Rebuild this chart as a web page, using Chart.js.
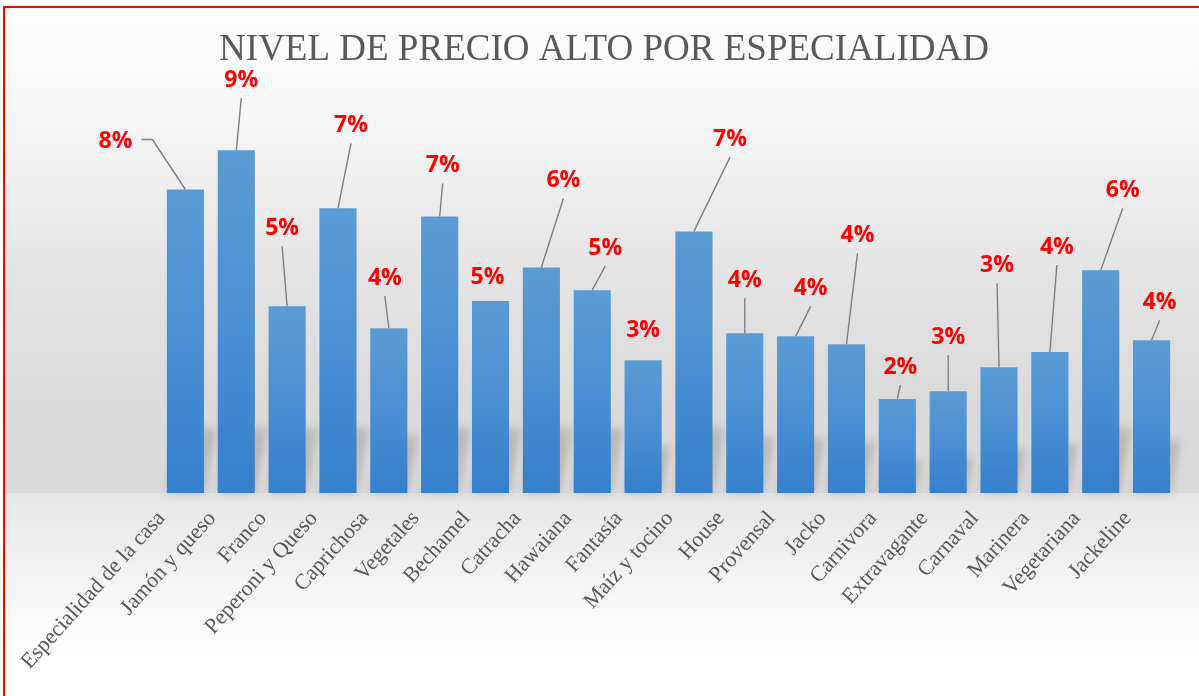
<!DOCTYPE html>
<html>
<head>
<meta charset="utf-8">
<script src="https://cdn.jsdelivr.net/npm/chart.js@4.4.0/dist/chart.umd.min.js"></script>
<style>
  body { margin: 0; background: #fff; }
  #wrap { width: 1199px; height: 696px; }
</style>
</head>
<body>
<div id="wrap"><canvas id="myChart"></canvas></div>
<script>
var especialidades = ["Especialidad de la casa", "Jamón y queso", "Franco", "Peperoni y Queso", "Caprichosa",
  "Vegetales", "Bechamel", "Catracha", "Hawaiana", "Fantasía", "Maíz y tocino", "House", "Provensal",
  "Jacko", "Carnivora", "Extravagante", "Carnaval", "Marinera", "Vegetariana", "Jackeline"];
var precioAlto = [7.75, 8.75, 4.77, 7.27, 4.21, 7.06, 4.90, 5.76, 5.18, 3.39,
  6.68, 4.08, 4.00, 3.80, 2.40, 2.60, 3.21, 3.60, 5.69, 3.90];

// where each data label sits, relative to the top of its bar
var etiquetaDx = [-70, 5, -5, 13, -4, 3, -3, 22, 13, 0, 36, 0, 15, 11, 3, 0, -2, 7, 22, 8];
var etiquetaDy = [-48, -70, -78, -83, -50, -51, -24, -87, -42, -30, -92, -53, -48, -109, -32, -54, -102, -105, -80, -38];
var conLinea = [1, 1, 1, 1, 1, 1, 0, 1, 1, 0, 1, 1, 1, 1, 1, 1, 1, 1, 1, 1];

var fondo = {
  id: 'fondo',
  beforeDraw: function(chart) {
    var ctx = chart.ctx, w = chart.width, h = chart.height;
    var base = chart.chartArea.bottom;
    ctx.save();
    var g = ctx.createLinearGradient(0, 0, 0, base);
    g.addColorStop(0, '#ffffff');
    g.addColorStop(0.25, '#f5f5f5');
    g.addColorStop(0.55, '#e4e4e4');
    g.addColorStop(0.8, '#dadada');
    g.addColorStop(1, '#d9d9d9');
    ctx.fillStyle = g;
    ctx.fillRect(0, 0, w, base);
    var g2 = ctx.createLinearGradient(0, base, 0, h);
    g2.addColorStop(0, '#e6e6e6');
    g2.addColorStop(0.8, '#ffffff');
    g2.addColorStop(1, '#ffffff');
    ctx.fillStyle = g2;
    ctx.fillRect(0, base, w, h - base);
    ctx.fillStyle = '#e2e2e2';
    ctx.fillRect(chart.chartArea.left, base, chart.chartArea.right - chart.chartArea.left, 7);
    ctx.fillStyle = '#ffffff';
    ctx.fillRect(0, 0, w, 6);
    ctx.fillRect(0, 0, 3, h);
    ctx.strokeStyle = '#ff0000';
    ctx.lineWidth = 2;
    ctx.strokeRect(4, 7, w + 10, h + 10);
    ctx.restore();
  },
  beforeDatasetsDraw: function(chart) {
    var ctx = chart.ctx;
    ctx.save();
    ctx.filter = 'blur(4px)';
    ctx.fillStyle = 'rgba(0,0,0,0.15)';
    chart.getDatasetMeta(0).data.forEach(function(bar) {
      var l = bar.x - bar.width / 2, r = bar.x + bar.width / 2;
      var hs = Math.min(65, (bar.base - bar.y) * 0.35);
      ctx.beginPath();
      ctx.moveTo(l, bar.base);
      ctx.lineTo(r, bar.base);
      ctx.lineTo(r + hs * 0.2, bar.base - hs);
      ctx.lineTo(l + hs * 0.2, bar.base - hs);
      ctx.closePath();
      ctx.fill();
    });
    ctx.restore();
  },
  afterDatasetsDraw: function(chart) {
    var ctx = chart.ctx;
    ctx.save();
    ctx.strokeStyle = '#7f7f7f';
    ctx.lineWidth = 1.4;
    ctx.fillStyle = '#ff0000';
    ctx.font = 'bold 23px "Open Sans"';
    ctx.textAlign = 'center';
    ctx.textBaseline = 'middle';
    chart.getDatasetMeta(0).data.forEach(function(bar, i) {
      var lx = bar.x + etiquetaDx[i], ly = bar.y + etiquetaDy[i];
      ctx.beginPath();
      if (i === 0) {
        ctx.moveTo(lx + 26, ly - 2);
        ctx.lineTo(lx + 37, ly - 2);
        ctx.lineTo(bar.x, bar.y);
        ctx.stroke();
      } else if (conLinea[i]) {
        ctx.moveTo(lx, ly + 18);
        ctx.lineTo(bar.x, bar.y);
        ctx.stroke();
      }
      ctx.fillText(Math.round(precioAlto[i]) + '%', lx, ly);
    });
    ctx.restore();
  }
};

function colorBarra(c) {
  var y = c.chart.scales.y;
  if (!y || !c.chart.chartArea) return '#4a8fd2';
  var top = y.getPixelForValue(c.raw), bot = y.getPixelForValue(0);
  if (!isFinite(top) || !isFinite(bot)) return '#4a8fd2';
  var g = c.chart.ctx.createLinearGradient(0, top, 0, bot);
  g.addColorStop(0, '#5b9bd5');
  g.addColorStop(0.5, '#4a8fd2');
  g.addColorStop(1, '#3580cb');
  return g;
}

new Chart("myChart", {
  type: "bar",
  data: {
    labels: especialidades,
    datasets: [{
      data: precioAlto,
      backgroundColor: colorBarra,
      borderWidth: 0,
      barPercentage: 0.73,
      categoryPercentage: 1
    }]
  },
  options: {
    responsive: true,
    maintainAspectRatio: false,
    animation: false,
    layout: { padding: { left: 31, right: 22, top: 0, bottom: 0 } },
    plugins: {
      legend: { display: false },
      tooltip: { enabled: false },
      title: {
        display: true,
        text: "NIVEL DE PRECIO ALTO POR ESPECIALIDAD",
        color: '#595959',
        font: { family: '"Liberation Serif"', size: 37, weight: 'normal' },
        padding: { top: 28, bottom: 29 }
      }
    },
    scales: {
      y: {
        min: 0, max: 10,
        grid: { display: false },
        border: { display: false },
        ticks: { display: false },
        afterFit: function(s) { s.width = 129; }
      },
      x: {
        grid: { display: false },
        border: { display: false },
        ticks: {
          color: '#595959',
          font: { family: '"Liberation Serif"', size: 22 },
          minRotation: 48,
          maxRotation: 48,
          autoSkip: false,
          padding: 5,
          labelOffset: -24
        },
        afterFit: function(s) { s.height = 203; }
      }
    }
  },
  plugins: [fondo]
});
</script>
</body>
</html>
